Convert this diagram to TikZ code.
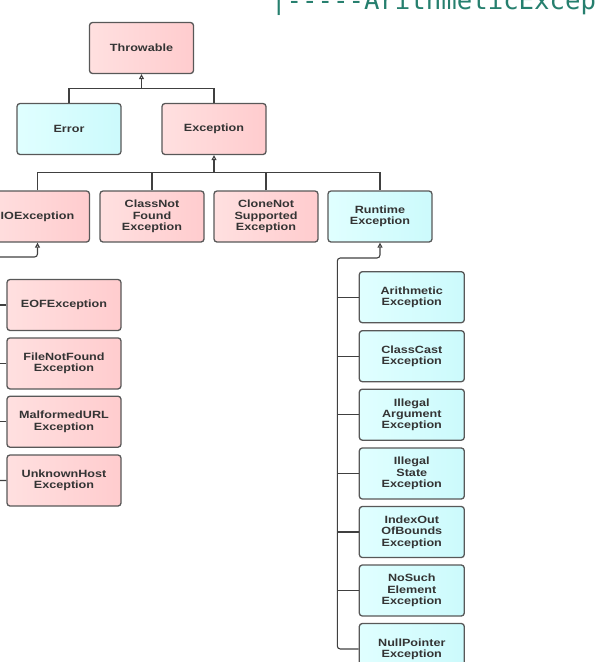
\documentclass[tikz,border=0pt]{standalone}
\usepackage{fontspec}
\newfontfamily\boxfont[FakeStretch=1.2]{Liberation Sans}
\newfontfamily\codefont{DejaVu Sans Mono}
\usetikzlibrary{arrows.meta, positioning}

\definecolor{pinkL}{RGB}{255,224,224}
\definecolor{pinkR}{RGB}{255,204,206}
\definecolor{cyanL}{RGB}{224,255,255}
\definecolor{cyanR}{RGB}{204,250,252}
\definecolor{boxline}{RGB}{88,88,88}
\definecolor{linkgray}{RGB}{64,64,64}
\definecolor{labelgray}{RGB}{52,52,52}
\definecolor{codeteal}{RGB}{38,127,110}

\begin{document}
\begin{tikzpicture}[
  x=1pt, y=-1pt,
  cls/.style={draw=boxline, line width=1.3pt, rounded corners=3pt,
    minimum width=104pt, minimum height=51pt, inner sep=2pt, align=center,
    text=labelgray, font=\boxfont\bfseries\fontsize{10.5}{11.3}\selectfont},
  checked/.style={cls, left color=pinkL, right color=pinkR},
  unchecked/.style={cls, left color=cyanL, right color=cyanR},
  link/.style={draw=linkgray, line width=1.1pt},
  inh/.style={link, -{Triangle[open, length=5pt, width=5pt]}},
]
  \useasboundingbox (0,0) rectangle (597,662);
  \clip (0,0) rectangle (597,662);

  % cut-off console line at the top
  \node[anchor=base west, inner sep=0pt, text=codeteal,
    font=\codefont\fontsize{25.7}{28}\selectfont] (console) at (271,9.5)
    {|-----ArithmeticException};

  % Root and first level
  \node[checked] (throwable) at (141.5,48) {Throwable};
  \node[unchecked] (error) at (69,129) {Error};
  \node[checked] (exception) at (214,129) {Exception};

  % Second level
  \node[checked] (ioexc) at (37.5,216.5) {IOException};
  \node[checked] (cnf) at (152,216.5) {ClassNot\\Found\\Exception};
  \node[checked] (cns) at (266,216.5) {CloneNot\\Supported\\Exception};
  \node[unchecked] (runtime) at (380,216.5) {Runtime\\Exception};

  % IOException subclasses
  \node[checked, minimum width=114pt] (eof) at (64,305) {EOFException};
  \node[checked, minimum width=114pt] (fnf) at (64,363.4) {FileNotFound\\Exception};
  \node[checked, minimum width=114pt] (murl) at (64,421.7) {MalformedURL\\Exception};
  \node[checked, minimum width=114pt] (uhost) at (64,480.5) {UnknownHost\\Exception};

  % RuntimeException subclasses
  \node[unchecked, minimum width=105pt] (arith) at (411.8,297.2) {Arithmetic\\Exception};
  \node[unchecked, minimum width=105pt] (ccast) at (411.8,356.2) {ClassCast\\Exception};
  \node[unchecked, minimum width=105pt] (iarg) at (411.8,414.7) {Illegal\\Argument\\Exception};
  \node[unchecked, minimum width=105pt] (istate) at (411.8,473.5) {Illegal\\State\\Exception};
  \node[unchecked, minimum width=105pt] (ioob) at (411.8,532) {IndexOut\\OfBounds\\Exception};
  \node[unchecked, minimum width=105pt] (nse) at (411.8,590.5) {NoSuch\\Element\\Exception};
  \node[unchecked, minimum width=105pt] (npe) at (411.8,649) {NullPointer\\Exception};

  % Junction points
  \coordinate (jthrow) at (141.5,88.3);
  \coordinate (jexc) at (214,172.7);
  \coordinate (iobend) at (-5,257);
  \coordinate (rtbend) at (337.3,258);

  % Throwable
  \draw[inh] (jthrow) -- (throwable);
  \draw[link] (error.north) |- (jthrow) -| (exception.north);

  % Exception
  \draw[inh] (jexc) -- (exception);
  \draw[link] (ioexc.north) |- (jexc) -| (runtime.north);
  \draw[link] (cnf.north) -- (cnf.north |- jexc);
  \draw[link] (cns.north) -- (cns.north |- jexc);

  % IOException
  \draw[inh, rounded corners=3pt] (uhost.west) -| (iobend) -| (ioexc.south);
  \foreach \n in {eof, fnf, murl}
    \draw[link] (\n.west) -- (\n.west -| iobend);

  % RuntimeException
  \draw[inh, rounded corners=3pt] (npe.west) -| (rtbend) -| (runtime.south);
  \foreach \n in {arith, ccast, iarg, istate, ioob, nse}
    \draw[link] (\n.west) -- (\n.west -| rtbend);

\end{tikzpicture}
\end{document}
